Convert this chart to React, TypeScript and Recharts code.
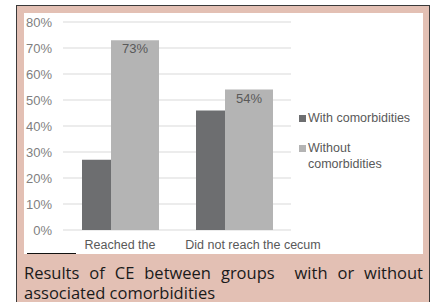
import { Bar, BarChart, CartesianGrid, LabelList, XAxis, YAxis } from 'recharts';

const categories = ['Reached the', 'Did not reach the cecum'];
const withComorbidities = [27, 46];
const withoutComorbidities = [73, 54];
const yTicks = [0, 10, 20, 30, 40, 50, 60, 70, 80];

const DARK = '#6d6e70';
const LIGHT = '#b4b4b4';
const FONT = '"Liberation Sans", Arial, sans-serif';

const data = categories.map((name, i) => ({
  name,
  with: withComorbidities[i],
  without: withoutComorbidities[i],
}));

// the second label sits a bit right of its group in the original
const TICK_SHIFT = [0, 19];

function CategoryTick({ x, y, payload, index }: any) {
  return (
    <text
      x={x + (TICK_SHIFT[index] ?? 0)}
      y={y}
      dy={11}
      textAnchor="middle"
      fill="#595959"
      fontSize={12.5}
      fontFamily={FONT}
    >
      {payload.value}
    </text>
  );
}

const legendItems = [
  { label: 'With comorbidities', color: DARK },
  { label: 'Without comorbidities', color: LIGHT },
];

function LegendBox() {
  return (
    <div
      style={{
        position: 'absolute',
        left: 299,
        top: 110,
        fontFamily: FONT,
        fontSize: 12.5,
        lineHeight: '16.5px',
        color: '#595959',
      }}
    >
      {legendItems.map((it, i) => (
        <div key={it.label} style={{ display: 'flex', marginTop: i ? 13 : 0 }}>
          <span
            style={{ width: 7, height: 7, background: it.color, marginTop: 5, marginRight: 2, flex: 'none' }}
          />
          <span style={{ width: 112 }}>{it.label}</span>
        </div>
      ))}
    </div>
  );
}

export default function App() {
  return (
    <div style={{ position: 'absolute', left: 0, top: 0, width: 433, height: 302, overflow: 'hidden', background: '#fff' }}>
      <div
        style={{
          position: 'absolute',
          left: 16,
          top: 5,
          width: 412,
          height: 310,
          border: '1px solid #3a3a3a',
          background: '#e3c0b4',
        }}
      />
      <div style={{ position: 'absolute', left: 24, top: 13, width: 399, height: 241, background: '#fff' }}>
        <BarChart
          width={399}
          height={241}
          data={data}
          margin={{ top: 9, right: 132, bottom: 4, left: 0 }}
          barGap={0}
        >
          <CartesianGrid vertical={false} stroke="#d9d9d9" />
          <XAxis
            dataKey="name"
            height={20}
            axisLine={false}
            tickLine={false}
            interval={0}
            tick={<CategoryTick />}
          />
          <YAxis
            width={39}
            domain={[0, 80]}
            ticks={yTicks}
            interval={0}
            axisLine={false}
            tickLine={false}
            tickMargin={5}
            tickFormatter={(v) => `${v}%`}
            tick={{ fontSize: 13, fill: '#7f7f7f', fontFamily: FONT }}
          />
          <Bar dataKey="with" fill={DARK} barSize={29} isAnimationActive={false} />
          <Bar dataKey="without" fill={LIGHT} barSize={48} isAnimationActive={false}>
            <LabelList
              dataKey="without"
              position="insideTop"
              offset={4}
              formatter={(v: any) => `${v}%`}
              fill="#595959"
              fontSize={13}
              fontFamily={FONT}
            />
          </Bar>
        </BarChart>
      </div>
      <LegendBox />
      <div style={{ position: 'absolute', left: 27, top: 252.5, width: 49, height: 1.5, background: '#111' }} />
      <div
        style={{
          position: 'absolute',
          left: 24,
          top: 263,
          width: 399,
          fontFamily: '"Open Sans", sans-serif',
          fontSize: 16.5,
          lineHeight: '20px',
          color: '#1a1a1a',
          textAlign: 'justify',
        }}
      >
        Results of CE between groups&nbsp; with or without associated comorbidities
      </div>
    </div>
  );
}
